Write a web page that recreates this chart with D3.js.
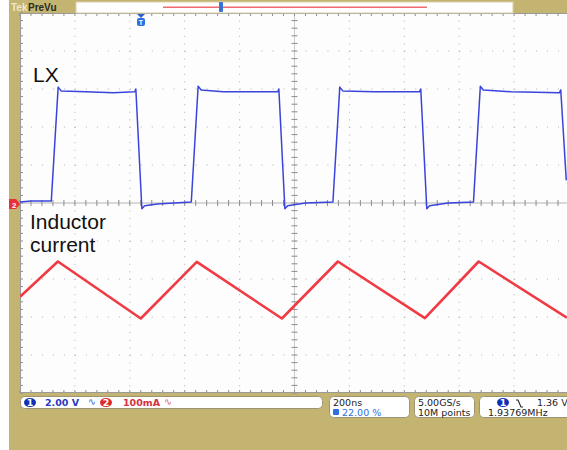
<!DOCTYPE html>
<html>
<head>
<meta charset="utf-8">
<script src="https://cdn.jsdelivr.net/npm/d3@7"></script>
<style>
  body { margin: 0; background: #fff; }
  text { font-family: "Liberation Sans", Arial, sans-serif; }
  .stat { font-family: "DejaVu Sans", sans-serif; font-size: 9.5px; }
</style>
</head>
<body>
<div id="scope"></div>
<script>
// LX node voltage (ch1, volts) vs time (ns)
var lxTime = [-440, -400, -326, -301, -290, -200, -100, -22, -18, 4, 14, 60, 184, 209, 220, 300, 420, 499, 503, 525, 535, 600, 700, 725, 736, 850, 1015, 1020, 1042, 1052, 1120, 1212, 1237, 1248, 1350, 1525, 1530, 1550];
var lxVolt = [0.05, 0.1, 0.1, 6.1, 5.9, 5.85, 5.8, 5.85, 6.0, -0.3, -0.15, -0.05, 0.05, 6.15, 5.95, 5.85, 5.85, 5.85, 6.0, -0.3, -0.15, 0, 0.05, 6.1, 5.9, 5.85, 5.85, 6.0, -0.3, -0.15, 0, 0.05, 6.15, 5.95, 5.85, 5.8, 5.95, 1.2];

// inductor current (ch2, mA) vs time (ns)
var ilTime = [-440, -302, 0, 204, 514, 718, 1035, 1231, 1552];
var ilAmps = [-247, -154, -304, -155, -304, -154, -303, -154, -302];

var W = 567, H = 450;
var khaki = "#c4b472";

var svg = d3.select("#scope").append("svg")
  .attr("width", W)
  .attr("height", H);

// frame / background
svg.append("rect").attr("x", 9).attr("y", 0).attr("width", W - 9).attr("height", H).attr("fill", khaki);
svg.append("rect").attr("x", 20).attr("y", 13).attr("width", W - 20).attr("height", 380).attr("fill", "#fdfdfd");

// graticule scales (divisions)
var gx = d3.scaleLinear().domain([0, 10]).range([20, 569]);
var gy = d3.scaleLinear().domain([0, 10]).range([13, 393]);

// trace scales
var x = d3.scaleLinear().domain([-440, 1560]).range([20, 569]);
var yV = d3.scaleLinear().domain([-10, 10]).range([393, 13]);
var yI = d3.scaleLinear().domain([-500, 500]).range([393, 13]);

var grid = svg.append("g");
var stepX = (gx(1) - gx(0)) / 5, stepY = (gy(1) - gy(0)) / 5;

d3.range(1, 10).forEach(function(i) {
  if (i == 5) return;
  grid.append("line")
    .attr("x1", gx(i)).attr("x2", gx(i)).attr("y1", 13).attr("y2", 393)
    .attr("stroke", "#b0b0b0").attr("stroke-width", 1)
    .attr("stroke-dasharray", "1 " + (stepY - 1));
  grid.append("line")
    .attr("x1", 20).attr("x2", 569).attr("y1", gy(i)).attr("y2", gy(i))
    .attr("stroke", "#b0b0b0").attr("stroke-width", 1)
    .attr("stroke-dasharray", "1 " + (stepX - 1));
});

// centre cross and border with minor ticks
var cross = "#8c8c8c";
grid.append("line").attr("x1", gx(5)).attr("x2", gx(5)).attr("y1", 13).attr("y2", 393).attr("stroke", "#c8c8c8");
grid.append("line").attr("x1", 20).attr("x2", 569).attr("y1", gy(5)).attr("y2", gy(5)).attr("stroke", "#b4b4b4");
d3.range(0, 51).forEach(function(k) {
  var xx = gx(k / 5), yy = gy(k / 5);
  grid.append("line").attr("x1", xx).attr("x2", xx).attr("y1", gy(5) - 3).attr("y2", gy(5) + 3).attr("stroke", cross);
  grid.append("line").attr("x1", gx(5) - 3).attr("x2", gx(5) + 3).attr("y1", yy).attr("y2", yy).attr("stroke", cross);
  grid.append("line").attr("x1", xx).attr("x2", xx).attr("y1", 13).attr("y2", 16).attr("stroke", cross);
  grid.append("line").attr("x1", xx).attr("x2", xx).attr("y1", 390).attr("y2", 393).attr("stroke", cross);
  grid.append("line").attr("x1", 20).attr("x2", 23).attr("y1", yy).attr("y2", yy).attr("stroke", cross);
});
grid.append("line").attr("x1", 20).attr("x2", W).attr("y1", 13.5).attr("y2", 13.5).attr("stroke", "#9a9a9a");
grid.append("line").attr("x1", 20).attr("x2", W).attr("y1", 392.5).attr("y2", 392.5).attr("stroke", "#9a9a9a");
grid.append("line").attr("x1", 20.5).attr("x2", 20.5).attr("y1", 13).attr("y2", 393).attr("stroke", "#9a9a9a");

// traces
svg.append("clipPath").attr("id", "plot")
  .append("rect").attr("x", 20).attr("y", 13).attr("width", W - 20).attr("height", 380);

var lx = lxTime.map(function(t, i) { return [t, lxVolt[i]]; });
var il = ilTime.map(function(t, i) { return [t, ilAmps[i]]; });

svg.append("path")
  .datum(il)
  .attr("clip-path", "url(#plot)")
  .attr("fill", "none")
  .attr("stroke", "#f03a44")
  .attr("stroke-width", 2.6)
  .attr("stroke-linejoin", "round")
  .attr("d", d3.line().x(d => x(d[0])).y(d => yI(d[1])));

svg.append("path")
  .datum(lx)
  .attr("clip-path", "url(#plot)")
  .attr("fill", "none")
  .attr("stroke", "#3a44dc")
  .attr("stroke-width", 1.5)
  .attr("stroke-linejoin", "round")
  .attr("d", d3.line().x(d => x(d[0])).y(d => yV(d[1])));

// labels
svg.append("text").attr("x", 33).attr("y", 82).attr("font-size", "21px").attr("fill", "#111").text("LX");
svg.append("text").attr("x", 30).attr("y", 229).attr("font-size", "21px").attr("fill", "#111").text("Inductor");
svg.append("text").attr("x", 30).attr("y", 252).attr("font-size", "21px").attr("fill", "#111").text("current");

// ch2 ground marker
svg.append("path").attr("d", "M9,199 h7 l4,5 l-4,5 h-7 z").attr("fill", "#e8303a");
svg.append("text").attr("x", 12).attr("y", 207.5).attr("font-size", "8px").attr("font-weight", "bold").attr("fill", "#fff").text("2");

// top record bar
svg.append("rect").attr("x", 76).attr("y", 2).attr("width", 437).attr("height", 11).attr("fill", "#fff").attr("stroke", "#d9cfa6");
svg.append("rect").attr("x", 163).attr("y", 6.5).attr("width", 264).attr("height", 1.5).attr("fill", "#f06a72");
svg.append("text").attr("x", 11).attr("y", 11).attr("font-size", "10px").attr("font-weight", "bold").attr("fill", "#eee8cc").text("Tek");
svg.append("text").attr("x", 28).attr("y", 11).attr("font-size", "10px").attr("font-weight", "bold").attr("fill", "#2b2b20").text("PreVu");
svg.append("rect").attr("x", 219).attr("y", 2).attr("width", 4).attr("height", 10).attr("rx", 1).attr("fill", "#3a72d8");

// trigger position marker
svg.append("path").attr("d", "M137,14 h8 l-4,4 z").attr("fill", "#2d5fc8");
svg.append("rect").attr("x", 137).attr("y", 18).attr("width", 8).attr("height", 8).attr("rx", 2).attr("fill", "#2d6ee0");
svg.append("text").attr("x", 141).attr("y", 25).attr("text-anchor", "middle").attr("font-size", "7px").attr("font-weight", "bold").attr("fill", "#fff").text("T");

// status readouts
var box = function(x0, y0, w, h) {
  svg.append("rect").attr("x", x0).attr("y", y0).attr("width", w).attr("height", h).attr("rx", 4)
    .attr("fill", "#fff").attr("stroke", "#9d9474").attr("stroke-width", 1);
};
box(20.5, 396.5, 302, 12);
box(329.5, 396.5, 80, 21);
box(414.5, 396.5, 60, 21);
box(479.5, 396.5, 95, 21);

var chip = function(cx, cy, col, label) {
  svg.append("ellipse").attr("cx", cx).attr("cy", cy).attr("rx", 6).attr("ry", 4.5).attr("fill", col);
  svg.append("text").attr("x", cx).attr("y", cy + 3.5).attr("text-anchor", "middle").attr("class", "stat")
    .attr("font-weight", "bold").attr("fill", "#fff").text(label);
};
chip(30, 402.5, "#1030b8", "1");
svg.append("text").attr("class", "stat").attr("x", 45).attr("y", 406).attr("fill", "#2838c0").attr("font-weight", "bold").text("2.00 V");
svg.append("text").attr("class", "stat").attr("x", 88).attr("y", 405).attr("font-size", "7px").attr("fill", "#3a62c8").text("∿");
chip(106, 402.5, "#e02a2a", "2");
svg.append("text").attr("class", "stat").attr("x", 123).attr("y", 406).attr("fill", "#d83040").attr("font-weight", "bold").text("100mA");
svg.append("text").attr("class", "stat").attr("x", 164).attr("y", 405).attr("font-size", "7px").attr("fill", "#e0606a").text("∿");

svg.append("text").attr("class", "stat").attr("x", 333).attr("y", 406).attr("fill", "#222").text("200ns");
svg.append("rect").attr("x", 333).attr("y", 409).attr("width", 6).attr("height", 6).attr("rx", 1).attr("fill", "#2d6ee0");
svg.append("text").attr("class", "stat").attr("x", 342).attr("y", 415.5).attr("fill", "#3070e0").text("22.00 %");

svg.append("text").attr("class", "stat").attr("x", 418).attr("y", 406).attr("fill", "#222").text("5.00GS/s");
svg.append("text").attr("class", "stat").attr("x", 418).attr("y", 415.5).attr("fill", "#222").text("10M points");

chip(503, 402.5, "#1030b8", "1");
svg.append("path").attr("d", "M516,400 h2 l3,7 h2").attr("fill", "none").attr("stroke", "#222").attr("stroke-width", 1.1);
svg.append("text").attr("class", "stat").attr("x", 537).attr("y", 406).attr("fill", "#222").text("1.36 V");
svg.append("text").attr("class", "stat").attr("x", 488).attr("y", 415.5).attr("fill", "#222").text("1.93769MHz");
</script>
</body>
</html>
